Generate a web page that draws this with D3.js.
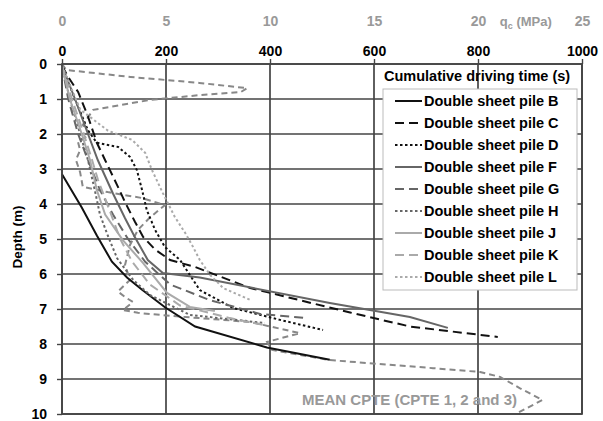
<!DOCTYPE html>
<html>
<head>
<meta charset="utf-8">
<script src="https://cdn.jsdelivr.net/npm/d3@7"></script>
<style>
  body { margin: 0; background: #fff; }
  text { font-family: "Liberation Sans", Arial, sans-serif; }
</style>
</head>
<body>
<div id="chart"></div>
<script>
// tick values
var timeTicks = [0, 200, 400, 600, 800, 1000]
var qcTicks = [0, 5, 10, 15, 20, 25]
var depthTicks = [0, 1, 2, 3, 4, 5, 6, 7, 8, 9, 10]

// cumulative driving time (s) vs depth (m)
var pileB = [[0,3.15],[38,4.1],[67,4.9],[96,5.65],[125,6.1],[154,6.45],[198,6.95],[256,7.5],[394,8.1],[515,8.45]]
var pileC = [[0,0.05],[12,0.37],[31,0.8],[50,1.5],[67,2.25],[83,2.75],[106,3.46],[121,3.94],[140,4.5],[156,4.94],[179,5.3],[208,5.6],[256,5.8],[362,6.4],[444,6.7],[554,7.1],[669,7.5],[838,7.8]]
var pileD = [[0,0.05],[25,1.0],[50,1.9],[67,2.25],[108,2.37],[131,2.66],[144,3.03],[154,3.6],[163,4.17],[179,4.74],[198,5.23],[227,5.6],[265,6.46],[329,6.97],[419,7.31],[502,7.6]]
var pileF = [[0,0.05],[25,1.0],[50,2.0],[69,2.75],[98,3.7],[121,4.4],[140,4.94],[165,5.6],[194,5.97],[265,6.1],[515,6.83],[669,7.23],[742,7.54]]
var pileG = [[0,0.05],[12,1.0],[31,2.0],[50,2.75],[73,3.6],[98,4.3],[127,5.0],[160,5.65],[208,6.3],[285,6.75],[381,7.14],[471,7.26]]
var pileH = [[0,0.05],[15,1.0],[35,2.0],[50,2.75],[63,3.6],[73,4.3],[88,4.9],[106,5.55],[137,6.17],[169,6.6],[246,7.17],[390,7.4]]
var pileJ = [[0,0.05],[15,1.0],[38,2.0],[54,2.75],[67,3.6],[83,4.3],[117,5.03],[156,5.69],[202,6.54],[246,6.94],[294,7.06]]
var pileK = [[0,0.05],[19,1.0],[42,2.0],[58,2.75],[69,3.3],[92,4.2],[112,5.0],[135,5.65],[169,6.3],[227,6.9],[323,7.26],[390,7.46]]
var pileL = [[0,0.05],[35,1.3],[88,1.9],[135,2.17],[160,2.54],[173,3.03],[194,3.69],[217,4.37],[237,4.83],[250,5.17],[265,5.6],[285,6.03],[310,6.4],[362,6.74]]

// mean CPTE: qc (MPa) vs depth (m)
var cpte = [[0,0],[0.2,0.17],[3.3,0.37],[6.6,0.54],[8.9,0.69],[8.6,0.8],[6.6,0.89],[4.2,1.03],[1.5,1.31],[1.0,1.74],[1.35,2.0],[0.77,2.23],[0.87,2.46],[0.67,2.74],[0.87,3.09],[1.0,3.51],[2.2,3.66],[3.85,3.83],[4.95,4.03],[4.2,4.4],[3.65,4.74],[3.27,5.17],[3.03,5.74],[3.27,6.17],[2.69,6.5],[3.03,6.66],[3.41,6.8],[2.93,7.03],[3.65,7.11],[5.29,7.2],[9.04,7.37],[11.44,7.69],[9.86,7.94],[10.1,8.17],[12.88,8.46],[17.84,8.69],[20.1,8.8],[21.06,8.94],[22.0,9.26],[23.1,9.6],[21.9,9.97]]

var legendNames = ["Double sheet pile B","Double sheet pile C","Double sheet pile D","Double sheet pile F","Double sheet pile G","Double sheet pile H","Double sheet pile J","Double sheet pile K","Double sheet pile L"]
var pileData = [pileB, pileC, pileD, pileF, pileG, pileH, pileJ, pileK, pileL]
var pileColors = ["#111","#111","#111","#666","#666","#666","#aaa","#aaa","#aaa"]
var pileDash = [null,"9,5","2.5,2.5",null,"9,5","2.5,2.5",null,"9,5","2.5,2.5"]

var W = 603, H = 421
var margin = {top: 64, right: 21, bottom: 7, left: 62}
var width = W - margin.left - margin.right
var height = H - margin.top - margin.bottom

var svg = d3.select("#chart").append("svg")
    .attr("width", W)
    .attr("height", H)
  .append("g")
    .attr("transform", "translate(" + margin.left + "," + margin.top + ")")

var x = d3.scaleLinear().domain([0, 1000]).range([0, width])
var xq = d3.scaleLinear().domain([0, 25]).range([0, width])
var y = d3.scaleLinear().domain([0, 10]).range([0, height])

// grid
svg.append("g").selectAll("line").data(depthTicks).join("line")
    .attr("x1", 0).attr("x2", width)
    .attr("y1", d => y(d)).attr("y2", d => y(d))
    .attr("stroke", "#444").attr("stroke-width", 1.7)
svg.append("g").selectAll("line").data(timeTicks).join("line")
    .attr("x1", d => x(d)).attr("x2", d => x(d))
    .attr("y1", 0).attr("y2", height)
    .attr("stroke", "#444").attr("stroke-width", 1.7)

// axes
var topAxis = svg.append("g")
    .call(d3.axisTop(x).tickValues(timeTicks).tickSize(5).tickPadding(3).tickFormat(d3.format("d")))
topAxis.select(".domain").remove()
topAxis.selectAll("line").attr("stroke", "#444").attr("stroke-width", 1.4)
topAxis.selectAll("text").attr("fill", "#000").style("font-size", "14px").style("font-weight", "bold")

var qAxis = svg.append("g")
    .call(d3.axisTop(xq).tickValues(qcTicks).tickSize(0).tickPadding(38))
qAxis.select(".domain").remove()
qAxis.selectAll("text").attr("fill", "#999").style("font-size", "14px").style("font-weight", "bold")

svg.append("text")
    .attr("x", xq(22.3)).attr("y", -38)
    .attr("fill", "#999").attr("text-anchor", "middle")
    .style("font-size", "13px").style("font-weight", "bold")
    .html('q<tspan dy="3" font-size="9">c</tspan><tspan dy="-3"> (MPa)</tspan>')

var leftAxis = svg.append("g")
    .call(d3.axisLeft(y).tickValues(depthTicks).tickSize(5).tickPadding(10))
leftAxis.select(".domain").remove()
leftAxis.selectAll("line").attr("stroke", "#444").attr("stroke-width", 1.4)
leftAxis.selectAll("text").attr("fill", "#000").style("font-size", "14px").style("font-weight", "bold")

svg.append("text")
    .attr("transform", "translate(-40," + (height / 2 - 2) + ") rotate(-90)")
    .attr("text-anchor", "middle")
    .style("font-size", "13.5px").style("font-weight", "bold")
    .text("Depth (m)")

// series
var line = d3.line().x(d => x(d[0])).y(d => y(d[1]))
var lineQ = d3.line().x(d => xq(d[0])).y(d => y(d[1]))

svg.append("path").datum(cpte)
    .attr("d", lineQ)
    .attr("fill", "none").attr("stroke", "#888")
    .attr("stroke-width", 2).attr("stroke-dasharray", "6,4")

svg.append("g").selectAll("path").data(pileData).join("path")
    .attr("d", line)
    .attr("fill", "none")
    .attr("stroke", (d, i) => pileColors[i])
    .attr("stroke-width", 2)
    .attr("stroke-dasharray", (d, i) => pileDash[i])

svg.append("text")
    .attr("x", 240).attr("y", 341)
    .attr("fill", "#999")
    .style("font-size", "15px").style("font-weight", "bold")
    .text("MEAN CPTE (CPTE 1, 2 and 3)")

// legend
var lx = 321, ly = 25
svg.append("text")
    .attr("x", lx + 1).attr("y", 17)
    .style("font-size", "14.5px").style("font-weight", "bold")
    .text("Cumulative driving time (s)")

svg.append("rect")
    .attr("x", lx).attr("y", ly)
    .attr("width", 194).attr("height", 201)
    .attr("fill", "#fff").attr("stroke", "#bbb")

var item = svg.append("g").selectAll("g").data(legendNames).join("g")
    .attr("transform", (d, i) => "translate(" + lx + "," + (ly + 12 + i * 22) + ")")
item.append("line")
    .attr("x1", 12).attr("x2", 39)
    .attr("stroke", (d, i) => pileColors[i])
    .attr("stroke-width", 2)
    .attr("stroke-dasharray", (d, i) => pileDash[i])
item.append("text")
    .attr("x", 41).attr("dy", "0.35em")
    .style("font-size", "14.5px").style("font-weight", "bold")
    .text(d => d)

// border
svg.append("rect")
    .attr("width", width).attr("height", height)
    .attr("fill", "none").attr("stroke", "#444").attr("stroke-width", 1.7)
</script>
</body>
</html>
